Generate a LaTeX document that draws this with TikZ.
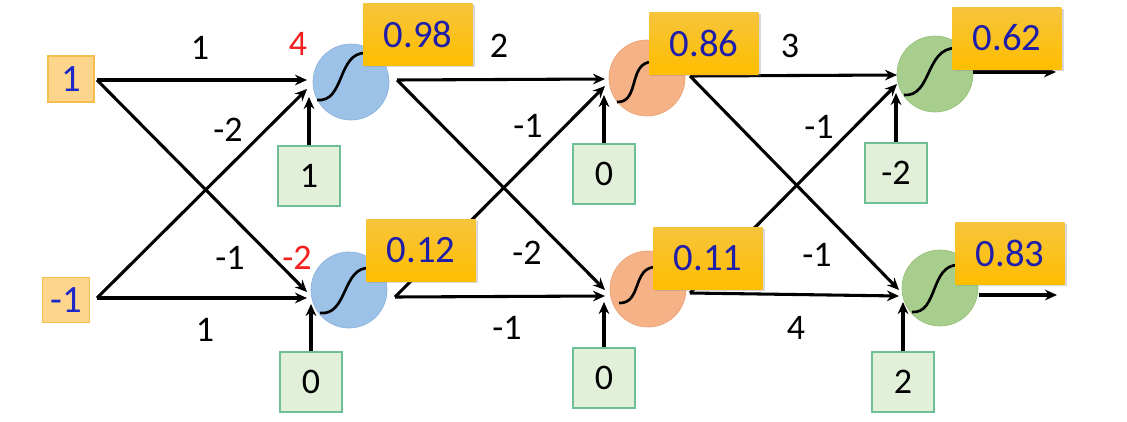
\documentclass[tikz,border=0pt]{standalone}
\usepackage{fontspec}
\setmainfont{Carlito}
\usetikzlibrary{arrows.meta,shadows}
\definecolor{infill}{RGB}{253,214,140}
\definecolor{inborder}{RGB}{246,190,80}
\definecolor{biasfill}{RGB}{226,240,217}
\definecolor{biasborder}{RGB}{110,190,150}
\definecolor{blueN}{RGB}{157,194,232}
\definecolor{blueNd}{RGB}{140,178,222}
\definecolor{orangeN}{RGB}{245,178,135}
\definecolor{orangeNd}{RGB}{236,162,118}
\definecolor{greenN}{RGB}{168,206,142}
\definecolor{greenNd}{RGB}{150,192,124}
\definecolor{goldT}{RGB}{246,196,60}
\definecolor{goldB}{RGB}{255,190,0}
\definecolor{valtext}{RGB}{30,30,170}
\definecolor{redtext}{RGB}{245,30,30}
\definecolor{intext}{RGB}{30,40,200}
\begin{document}
\begin{tikzpicture}[x=0.75pt,y=-0.75pt,
  wire/.style={line width=2.3pt,draw=black},
  arr/.style={wire,-{Stealth[length=9pt,width=8pt]}},
  inbox/.style={draw=inborder,fill=infill,line width=0.8pt,minimum width=34.5pt,minimum height=34.5pt,inner sep=0pt,text=intext,font=\fontsize{29pt}{32pt}\selectfont},
  biasbox/.style={draw=biasborder,fill=biasfill,line width=1pt,minimum width=46.5pt,minimum height=45pt,inner sep=0pt,font=\fontsize{27pt}{30pt}\selectfont},
  valbox/.style={draw=none,top color=goldT,bottom color=goldB,minimum width=82pt,minimum height=46.5pt,inner sep=0pt,text=valtext,font=\fontsize{29pt}{32pt}\selectfont,drop shadow={opacity=0.3,shadow xshift=1.5pt,shadow yshift=-1.5pt}},
  neuron/.style={circle,minimum size=57pt,inner sep=0pt,line width=0.5pt},
  wlab/.style={inner sep=0pt,font=\fontsize{27pt}{30pt}\selectfont},
  rlab/.style={wlab,text=redtext},
  sig/.style={line width=2pt,draw=black}
]
\useasboundingbox (0,0) rectangle (1127,421);
\fill[white] (0,0) rectangle (1127,421);

% neurons
\node[neuron,fill=blueN,draw=blueNd] (N11) at (351,82) {};
\node[neuron,fill=blueN,draw=blueNd] (N12) at (349,290) {};
\node[neuron,fill=orangeN,draw=orangeNd] (N21) at (647,78) {};
\node[neuron,fill=orangeN,draw=orangeNd] (N22) at (648,289) {};
\node[neuron,fill=greenN,draw=greenNd] (N31) at (935,74) {};
\node[neuron,fill=greenN,draw=greenNd] (N32) at (940,288) {};

% sigmoid curves
\draw[sig] (317,100) .. controls (345,103) and (337,52) .. (366,53);
\draw[sig] (320,313) .. controls (348,316) and (342,266) .. (370,268);
\draw[sig] (617,102) .. controls (640,103) and (628,62) .. (652,62);
\draw[sig] (619,303) .. controls (642,304) and (632,267) .. (656,267);
\draw[sig] (904,95) .. controls (932,97) and (925,48) .. (956,48);
\draw[sig] (912,312) .. controls (938,314) and (930,265) .. (958,265);

% inputs
\node[inbox] (I1) at (71,79) {1};
\node[inbox,minimum width=35pt,minimum height=34pt] (I2) at (66,300) {-1};

% biases
\node[biasbox] (B11) at (309,176) {1};
\node[biasbox] (B12) at (311,382) {0};
\node[biasbox] (B21) at (604,174) {0};
\node[biasbox] (B22) at (604,378) {0};
\node[biasbox] (B31) at (896,173) {-2};
\node[biasbox] (B32) at (903,382) {2};

% connector coordinates
\coordinate (a1) at (97,80);
\coordinate (a2) at (97,298);
\coordinate (b1) at (397,80);
\coordinate (b2) at (395,297);
\coordinate (c1) at (690,76);
\coordinate (c2) at (690,293);
\coordinate (t11h) at (307,80);
\coordinate (t11d) at (307,89);
\coordinate (t11b) at (309,97);
\coordinate (t12d) at (307,292);
\coordinate (t12h) at (307,298);
\coordinate (t12b) at (311,304);
\coordinate (t21h) at (605,79);
\coordinate (t21d) at (605,86);
\coordinate (t21b) at (604,95);
\coordinate (t22d) at (605,290);
\coordinate (t22h) at (605,296);
\coordinate (t22b) at (604,302);
\coordinate (t31h) at (897,75);
\coordinate (t31d) at (897,84);
\coordinate (t31b) at (896,93);
\coordinate (t32d) at (899,290);
\coordinate (t32h) at (899,296);
\coordinate (t32b) at (903,302);
\coordinate (o1s) at (973,72);
\coordinate (o1e) at (1056,72);
\coordinate (o2s) at (979,295);
\coordinate (o2e) at (1057,295);

% layer 1 connectors
\draw[arr] (a1) -- (t11h);
\draw[arr] (a1) -- (t12d);
\draw[arr] (a2) -- (t12h);
\draw[arr] (a2) -- (t11d);
\draw[arr] (B11.north) -- (t11b);
\draw[arr] (B12.north) -- (t12b);
% layer 2 connectors
\draw[arr] (b1) -- (t21h);
\draw[arr] (b1) -- (t22d);
\draw[arr] (b2) -- (t22h);
\draw[arr] (b2) -- (t21d);
\draw[arr] (B21.north) -- (t21b);
\draw[arr] (B22.north) -- (t22b);
% layer 3 connectors
\draw[arr] (c1) -- (t31h);
\draw[arr] (c1) -- (t32d);
\draw[arr] (c2) -- (t32h);
\draw[arr] (c2) -- (t31d);
\draw[arr] (B31.north) -- (t31b);
\draw[arr] (B32.north) -- (t32b);
% outputs
\draw[arr] (o1s) -- (o1e);
\draw[arr] (o2s) -- (o2e);

% weights
\node[wlab] (w1) at (200,48) {1};
\node[wlab] (w2) at (228,130) {-2};
\node[wlab] (w3) at (230,258) {-1};
\node[wlab] (w4) at (205,330) {1};
\node[wlab] (w5) at (499,46) {2};
\node[wlab] (w6) at (528,126) {-1};
\node[wlab] (w7) at (527,253) {-2};
\node[wlab] (w8) at (507,328) {-1};
\node[wlab] (w9) at (790,46) {3};
\node[wlab] (w10) at (819,127) {-1};
\node[wlab] (w11) at (817,255) {-1};
\node[wlab] (w12) at (796,328) {4};
\node[rlab] (z1) at (298,44) {4};
\node[rlab] (z2) at (297,258) {-2};

% value boxes
\node[valbox] (V11) at (418,34) {0.98};
\node[valbox] (V12) at (421,250) {0.12};
\node[valbox] (V21) at (704,43) {0.86};
\node[valbox] (V22) at (708,258) {0.11};
\node[valbox] (V31) at (1007,38) {0.62};
\node[valbox] (V32) at (1010,253) {0.83};
\end{tikzpicture}
\end{document}
